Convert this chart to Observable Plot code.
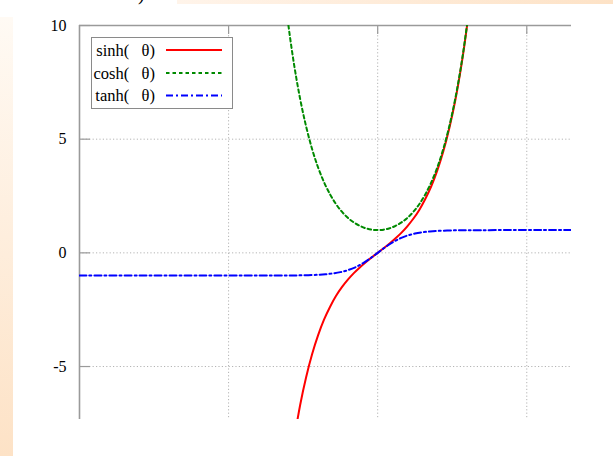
<!DOCTYPE html>
<html>
<head>
<meta charset="utf-8">
<script src="https://cdn.jsdelivr.net/npm/d3@7"></script>
<script src="https://cdn.jsdelivr.net/npm/@observablehq/plot@0.6"></script>
<style>
  html, body { margin: 0; padding: 0; background: #fff; }
  #page { position: relative; width: 613px; height: 456px; overflow: hidden; font-family: "Liberation Serif", serif; }
  #stripLeft { position: absolute; left: 0; top: 17px; width: 13px; height: 439px;
    background: linear-gradient(to bottom, #fffaf4, #fde2c6); }
  #stripTop { position: absolute; left: 177px; top: 0; width: 436px; height: 4px;
    background: linear-gradient(to right, #fff4ea, #fde2c6); }
  #titleTail { position: absolute; left: 138px; top: -17px; font-size: 20px; color: #000; line-height: 20px; }
  #chart { position: absolute; left: 0; top: 0; }
  #legend { position: absolute; left: 0; top: 0; pointer-events: none; }
</style>
</head>
<body>
<div id="page">
  <div id="stripLeft"></div>
  <div id="stripTop"></div>
  <div id="titleTail">)</div>
  <div id="chart"></div>
  <svg id="legend" width="613" height="456"></svg>
</div>
<script>
// Axis ranges and ticks
const xDomain = [-10, 6.5];
const yDomain = [-7.33, 10];
const xGridTicks = [-5, 0, 5];
const yTicks = [-5, 0, 5, 10];

// sinh(θ)
const sinhTheta = [-2.8, -2.6, -2.4, -2.2, -2.0, -1.8, -1.6, -1.4, -1.2, -1.0, -0.8, -0.6, -0.4, -0.2, 0,
                   0.2, 0.4, 0.6, 0.8, 1.0, 1.2, 1.4, 1.6, 1.8, 2.0, 2.2, 2.4, 2.6, 2.8, 3.0, 3.2];
const sinhValues = [-8.19, -6.69, -5.47, -4.46, -3.63, -2.94, -2.38, -1.90, -1.51, -1.18, -0.89, -0.64, -0.41, -0.20, 0,
                    0.20, 0.41, 0.64, 0.89, 1.18, 1.51, 1.90, 2.38, 2.94, 3.63, 4.46, 5.47, 6.69, 8.19, 10.02, 12.25];

// cosh(θ)
const coshTheta = [-3.2, -3.0, -2.8, -2.6, -2.4, -2.2, -2.0, -1.8, -1.6, -1.4, -1.2, -1.0, -0.8, -0.6, -0.4, -0.2, 0,
                   0.2, 0.4, 0.6, 0.8, 1.0, 1.2, 1.4, 1.6, 1.8, 2.0, 2.2, 2.4, 2.6, 2.8, 3.0, 3.2];
const coshValues = [12.29, 10.07, 8.25, 6.77, 5.56, 4.57, 3.76, 3.11, 2.58, 2.15, 1.81, 1.54, 1.34, 1.19, 1.08, 1.02, 1.00,
                    1.02, 1.08, 1.19, 1.34, 1.54, 1.81, 2.15, 2.58, 3.11, 3.76, 4.57, 5.56, 6.77, 8.25, 10.07, 12.29];

// tanh(θ)
const tanhTheta = [-10, -8, -6, -4, -3, -2.5, -2, -1.75, -1.5, -1.25, -1, -0.75, -0.5, -0.25, 0,
                   0.25, 0.5, 0.75, 1, 1.25, 1.5, 1.75, 2, 2.5, 3, 4, 6, 6.5];
const tanhValues = [-1.00, -1.00, -1.00, -1.00, -0.995, -0.987, -0.964, -0.941, -0.905, -0.848, -0.762, -0.635, -0.462, -0.245, 0,
                    0.245, 0.462, 0.635, 0.762, 0.848, 0.905, 0.941, 0.964, 0.987, 0.995, 1.00, 1.00, 1.00];

// Series styling and legend labels
const seriesNames = ["sinh(\u00a0\u00a0 θ)", "cosh(\u00a0\u00a0 θ)", "tanh(\u00a0\u00a0 θ)"];
const seriesColors = ["#ff0000", "#008a00", "#0000ff"];
const seriesDashes = [null, "3.5,3", "7,3,2,3"];

const toPoints = (xs, ys) => xs.map((x, i) => ({x, y: ys[i]}));
const series = [
  toPoints(sinhTheta, sinhValues),
  toPoints(coshTheta, coshValues),
  toPoints(tanhTheta, tanhValues)
];

const axisGray = "#9a9a9a";
const gridGray = "#b4b4b4";

const chart = Plot.plot({
  width: 613,
  height: 456,
  marginLeft: 79,
  marginRight: 42,
  marginTop: 25,
  marginBottom: 37,
  style: {background: "transparent", fontFamily: "'Liberation Serif', serif", fontSize: "16px", color: "#000"},
  x: {domain: xDomain},
  y: {domain: yDomain},
  marks: [
    Plot.gridX(xGridTicks, {stroke: gridGray, strokeOpacity: 1, strokeDasharray: "1.2,2.2"}),
    Plot.gridY(yTicks.filter(t => t < yDomain[1]), {stroke: gridGray, strokeOpacity: 1, strokeDasharray: "1.2,2.2"}),
    Plot.axisX({ticks: [], label: null}),
    Plot.axisX(xGridTicks, {anchor: "top", tickSize: -8, tickFormat: () => "", stroke: axisGray, strokeWidth: 1.2, label: null}),
    Plot.axisY(yTicks, {anchor: "left", tickSize: -11, tickFormat: () => "", stroke: axisGray, strokeWidth: 1.2, label: null}),
    Plot.axisY(yTicks, {anchor: "left", tickSize: 0, tickPadding: 13, label: null, fill: "#000", tickFormat: d => String(d)}),
    Plot.ruleX([xDomain[0]], {stroke: axisGray, strokeWidth: 1.6}),
    Plot.ruleY([yDomain[1]], {stroke: axisGray, strokeWidth: 1.6}),
    ...series.map((pts, i) => Plot.line(pts, {
      x: "x", y: "y",
      curve: "catmull-rom",
      stroke: seriesColors[i],
      strokeWidth: 2,
      strokeDasharray: seriesDashes[i],
      clip: true
    }))
  ]
});
document.getElementById("chart").appendChild(chart);

// Legend box in the upper-left corner of the plot
const legend = d3.select("#legend");
const box = {x: 91, y: 37, w: 141, h: 71};
legend.append("rect")
  .attr("x", box.x + 0.5).attr("y", box.y + 0.5)
  .attr("width", box.w).attr("height", box.h)
  .attr("fill", "#fff").attr("stroke", "#8a8a8a").attr("stroke-width", 1);
const rowY = [50, 73, 95.5];
seriesNames.forEach((name, i) => {
  legend.append("text")
    .attr("x", 155).attr("y", rowY[i] + 5.5)
    .attr("text-anchor", "end")
    .attr("font-family", "'Liberation Serif', serif")
    .attr("font-size", 16.5)
    .attr("fill", "#000")
    .text(name);
  legend.append("line")
    .attr("x1", 166).attr("x2", 222)
    .attr("y1", rowY[i]).attr("y2", rowY[i])
    .attr("stroke", seriesColors[i])
    .attr("stroke-width", 2)
    .attr("stroke-dasharray", seriesDashes[i]);
});
</script>
</body>
</html>
